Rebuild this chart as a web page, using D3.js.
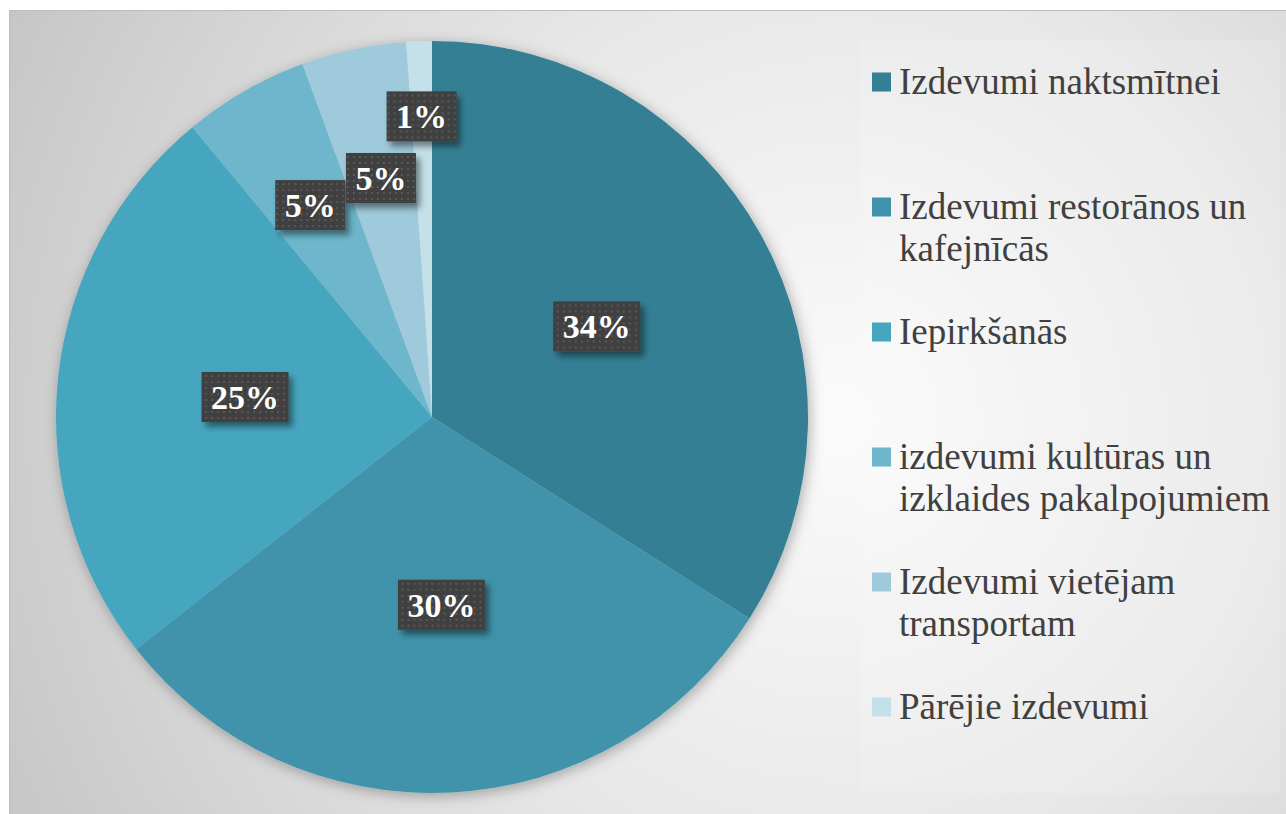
<!DOCTYPE html>
<html>
<head>
<meta charset="utf-8">
<script src="https://cdn.jsdelivr.net/npm/d3@7"></script>
<style>
  html, body { margin: 0; padding: 0; background: #ffffff; }
  svg { display: block; }
  .serif { font-family: "Liberation Serif", "DejaVu Serif", "Times New Roman", serif; }
</style>
</head>
<body>
<div id="chart"></div>
<script>
const categories = [
  "Izdevumi naktsmītnei",
  "Izdevumi restorānos un kafejnīcās",
  "Iepirkšanās",
  "izdevumi kultūras un izklaides pakalpojumiem",
  "Izdevumi vietējam transportam",
  "Pārējie izdevumi"
];
const shares = [34.0, 30.4, 24.6, 5.4, 4.5, 1.1];
const colors = ["#357f94", "#4093aa", "#46a6bf", "#6db6cc", "#9fcadb", "#c4e0e9"];

const W = 1286, H = 814;
const cx = 432, cy = 417, R = 376;

const svg = d3.select("#chart").append("svg")
  .attr("width", W).attr("height", H);

const defs = svg.append("defs");

const bg = defs.append("radialGradient")
  .attr("id", "bg")
  .attr("gradientUnits", "userSpaceOnUse")
  .attr("cx", 840).attr("cy", 420).attr("r", 980);
bg.append("stop").attr("offset", 0).attr("stop-color", "#fbfbfb");
bg.append("stop").attr("offset", 0.45).attr("stop-color", "#e8e8e8");
bg.append("stop").attr("offset", 1).attr("stop-color", "#c2c2c2");

const pieShadow = defs.append("filter").attr("id", "pieShadow")
  .attr("x", "-10%").attr("y", "-10%").attr("width", "120%").attr("height", "120%");
pieShadow.append("feDropShadow")
  .attr("dx", 2).attr("dy", 3).attr("stdDeviation", 7)
  .attr("flood-color", "#000").attr("flood-opacity", 0.3);

const boxShadow = defs.append("filter").attr("id", "boxShadow")
  .attr("x", "-30%").attr("y", "-30%").attr("width", "160%").attr("height", "170%");
boxShadow.append("feDropShadow")
  .attr("dx", 4).attr("dy", 5).attr("stdDeviation", 3)
  .attr("flood-color", "#000").attr("flood-opacity", 0.45);

const dots = defs.append("pattern").attr("id", "dots")
  .attr("patternUnits", "userSpaceOnUse")
  .attr("width", 6).attr("height", 6);
dots.append("rect").attr("width", 6).attr("height", 6).attr("fill", "#404040");
dots.append("rect").attr("x", 2).attr("y", 2).attr("width", 2).attr("height", 2).attr("fill", "#585858");

// chart area
svg.append("rect")
  .attr("x", 9.5).attr("y", 10.5)
  .attr("width", W - 9).attr("height", H - 10)
  .attr("fill", "url(#bg)")
  .attr("stroke", "#bdbdbd");

// legend panel
svg.append("rect")
  .attr("x", 861).attr("y", 40)
  .attr("width", 419).attr("height", 753)
  .attr("fill", "#ffffff").attr("fill-opacity", 0.14);

// pie
const pie = d3.pie().sort(null).value(d => d);
const arcs = pie(shares);
const arc = d3.arc().innerRadius(0).outerRadius(R);

const g = svg.append("g").attr("transform", `translate(${cx},${cy})`);

g.append("g").attr("filter", "url(#pieShadow)")
  .selectAll("path")
  .data(arcs)
  .enter()
  .append("path")
  .attr("d", arc)
  .attr("fill", (d, i) => colors[i]);

// data labels
const labelRadius = v => v >= 10 ? 0.5 * R : (v >= 2 ? 0.65 * R : 0.8 * R);

const labels = g.selectAll("g.lbl")
  .data(arcs)
  .enter()
  .append("g")
  .attr("class", "lbl")
  .attr("transform", d => {
    const r = labelRadius(d.value);
    const c = d3.arc().innerRadius(r).outerRadius(r).centroid(d);
    return `translate(${c[0]},${c[1]})`;
  });

labels.each(function(d) {
  const lg = d3.select(this);
  const box = lg.append("rect")
    .attr("fill", "url(#dots)")
    .attr("filter", "url(#boxShadow)");
  const t = lg.append("text")
    .attr("class", "serif")
    .attr("text-anchor", "middle")
    .attr("y", 12)
    .style("font-weight", "bold")
    .style("font-size", "34px")
    .attr("fill", "#ffffff")
    .text(Math.round(d.value) + "%");
  const w = t.node().getComputedTextLength() + 19;
  box.attr("x", -w / 2).attr("y", -25).attr("width", w).attr("height", 50);
});

// legend
const legend = svg.append("g").attr("class", "legend");
const legendStep = 125, legendTop = 82, maxTextW = 380;

categories.forEach((name, i) => {
  const y = legendTop + i * legendStep;
  const item = legend.append("g");
  item.append("rect")
    .attr("x", 872).attr("y", y - 9.5)
    .attr("width", 19).attr("height", 19)
    .attr("fill", colors[i]);

  const text = item.append("text")
    .attr("class", "serif")
    .attr("x", 899)
    .style("font-size", "37px")
    .attr("fill", "#404040");

  // wrap words to the legend width
  const words = name.split(" ");
  let line = [];
  let lineNo = 0;
  let tspan = text.append("tspan").attr("x", 899).attr("y", y + 12);
  words.forEach(word => {
    line.push(word);
    tspan.text(line.join(" "));
    if (tspan.node().getComputedTextLength() > maxTextW && line.length > 1) {
      line.pop();
      tspan.text(line.join(" "));
      line = [word];
      lineNo++;
      tspan = text.append("tspan").attr("x", 899).attr("y", y + 12 + lineNo * 42).text(word);
    }
  });
});
</script>
</body>
</html>
